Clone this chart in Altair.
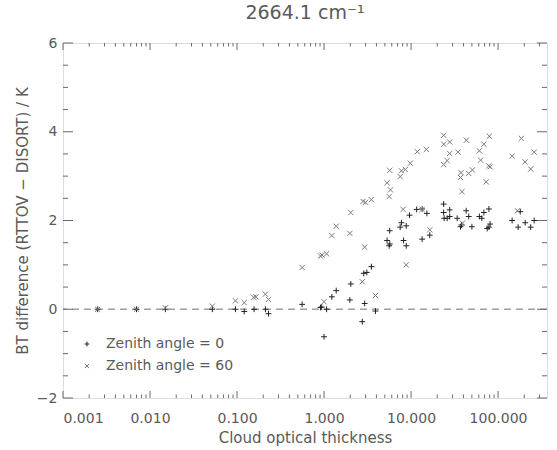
import altair as alt
import pandas as pd

# ---- data ----
labels = ["Zenith angle = 0", "Zenith angle = 60"]

tau_z0 = [0.0025, 0.007, 0.015, 0.052, 0.096, 0.121, 0.157, 0.212, 0.23, 0.56,
          0.91, 0.94, 1.0, 1.07, 1.23, 1.38, 1.98, 2.03, 2.75, 2.86,
          2.93, 3.1, 3.5, 3.9, 5.3, 5.6, 5.7, 5.68, 7.5, 7.75,
          8.8, 8.2, 8.8, 9.6, 11.6, 13.4, 13.4, 15.2, 16.4, 23.7,
          23.7, 27.8, 24.0, 26.0, 27.8, 33.9, 37.0, 38.0, 43.0, 46.0,
          50.0, 61.0, 65.0, 68.7, 78.5, 75.0, 78.5, 81.0, 145.0, 170.0,
          180.0, 205.0, 237.0, 260.0]
diff_z0 = [0.0, 0.0, 0.0, 0.0, 0.0, -0.05, 0.0, 0.0, -0.1, 0.11,
           0.04, 0.05, -0.62, 0.0, 0.28, 0.42, 0.21, 0.57, -0.28, 0.81,
           0.13, 0.83, 0.96, -0.04, 1.55, 1.43, 1.47, 1.77, 1.85, 1.95,
           1.88, 1.55, 1.43, 2.12, 2.25, 2.26, 1.58, 2.16, 1.67, 2.37,
           2.18, 2.24, 2.05, 2.05, 2.09, 2.05, 1.86, 1.90, 2.22, 2.09,
           1.86, 2.09, 2.05, 2.18, 2.26, 1.82, 1.85, 1.92, 2.0, 1.85,
           2.20, 1.95, 1.85, 2.0]

tau_z60 = [0.0025, 0.007, 0.015, 0.052, 0.096, 0.121, 0.155, 0.165, 0.212, 0.23,
           0.56, 0.91, 0.95, 1.0, 1.07, 1.23, 1.38, 1.98, 2.03, 2.75,
           2.8, 2.93, 3.0, 3.5, 3.9, 5.3, 5.6, 5.8, 5.68, 7.5,
           7.75, 8.1, 8.6, 8.8, 9.8, 11.8, 13.4, 15.0, 16.4, 23.7,
           23.7, 27.8, 26.0, 23.7, 27.8, 34.6, 37.5, 37.0, 38.5, 39.0,
           43.2, 45.9, 50.6, 61.0, 63.0, 68.7, 73.0, 79.4, 78.0, 81.0,
           145.0, 167.0, 185.0, 204.0, 237.0, 260.0]
diff_z60 = [0.0, 0.0, 0.03, 0.07, 0.19, 0.15, 0.27, 0.28, 0.34, 0.22,
            0.94, 1.20, 1.22, 0.17, 1.25, 1.66, 1.87, 1.71, 2.18, 0.62,
            2.43, 1.40, 2.41, 2.47, 0.31, 2.85, 2.54, 2.69, 3.13, 2.99,
            3.12, 2.25, 3.15, 1.0, 3.29, 3.55, 2.25, 3.60, 1.79, 3.92,
            3.72, 3.77, 3.35, 3.26, 3.51, 3.54, 3.08, 2.97, 2.65, 1.94,
            3.81, 3.06, 3.14, 3.57, 3.36, 3.72, 2.87, 3.90, 3.23, 3.21,
            3.45, 2.22, 3.85, 3.32, 3.16, 3.54]

x_major = [0.001, 0.01, 0.1, 1, 10, 100]
x_minor = [0.002, 0.003, 0.004, 0.005, 0.006, 0.007, 0.008, 0.009,
           0.02, 0.03, 0.04, 0.05, 0.06, 0.07, 0.08, 0.09,
           0.2, 0.3, 0.4, 0.5, 0.6, 0.7, 0.8, 0.9,
           2, 3, 4, 5, 6, 7, 8, 9,
           20, 30, 40, 50, 60, 70, 80, 90,
           200, 300]
y_major = [-2, 0, 2, 4, 6]
y_minor = [-1.5, -1, -0.5, 0.5, 1, 1.5, 2.5, 3, 3.5, 4.5, 5, 5.5]
zero_line = [0]

# ---- style ----
W, H = 484, 355
FONT = "DejaVu Sans"
AX = "#6a6a6a"
TXT = "#5a5a5a"
PLUS = "M-1,0L1,0M0,-1L0,1"
CROSS = "M-0.9,-0.9L0.9,0.9M-0.9,0.9L0.9,-0.9"

xscale = alt.Scale(type="log", domain=[0.001, 365], nice=False)
yscale = alt.Scale(domain=[-2, 6], nice=False, zero=False)

x_axis = alt.Axis(values=x_major, format=".3f", ticks=False, domain=False, grid=False,
                  labelFont=FONT, labelFontSize=14, labelColor=TXT, labelPadding=13,
                  title="Cloud optical thickness", titleFont=FONT, titleFontSize=15,
                  titleFontWeight="normal", titleColor=TXT, titlePadding=5)
y_axis = alt.Axis(values=y_major, format="d", ticks=False, domain=False, grid=False,
                  labelFont=FONT, labelFontSize=14, labelColor=TXT, labelPadding=6,
                  title="BT difference (RTTOV \u2212 DISORT) / K", titleFont=FONT,
                  titleFontSize=15, titleFontWeight="normal", titleColor=TXT,
                  titlePadding=6)

df = pd.DataFrame({
    "tau": tau_z0 + tau_z60,
    "diff": diff_z0 + diff_z60,
    "series": [labels[0]] * len(tau_z0) + [labels[1]] * len(tau_z60),
})

legend = alt.Legend(orient="none", legendX=17, legendY=294, title=None,
                    labelFont=FONT, labelFontSize=14, labelColor=TXT,
                    symbolSize=22, symbolStrokeWidth=1, labelOffset=12,
                    rowPadding=8, padding=0)

points = alt.Chart(df).mark_point(filled=False, strokeWidth=1, opacity=1, size=34).encode(
    x=alt.X("tau:Q", scale=xscale, axis=x_axis),
    y=alt.Y("diff:Q", scale=yscale, axis=y_axis),
    shape=alt.Shape("series:N", scale=alt.Scale(domain=labels, range=[PLUS, CROSS]), legend=legend),
    color=alt.Color("series:N", scale=alt.Scale(domain=labels, range=["#222222", "#7a7a7a"]), legend=legend),
)

zero = alt.Chart(pd.DataFrame({"v": zero_line})).mark_rule(
    color="#a0a0a0", strokeWidth=1.5, strokeDash=[7, 5]).encode(
    y=alt.Y("v:Q", scale=yscale, axis=y_axis))

def xticks(vals, length):
    d = pd.DataFrame({"t": vals})
    bottom = alt.Chart(d).mark_rule(color=AX, strokeWidth=1).encode(
        x=alt.X("t:Q", scale=xscale, axis=x_axis), y=alt.value(H), y2=alt.value(H - length))
    top = alt.Chart(d).mark_rule(color=AX, strokeWidth=1).encode(
        x=alt.X("t:Q", scale=xscale, axis=x_axis), y=alt.value(0), y2=alt.value(length))
    return [bottom, top]

def yticks(vals, length):
    d = pd.DataFrame({"t": vals})
    left = alt.Chart(d).mark_rule(color=AX, strokeWidth=1).encode(
        y=alt.Y("t:Q", scale=yscale, axis=y_axis), x=alt.value(0), x2=alt.value(length))
    right = alt.Chart(d).mark_rule(color=AX, strokeWidth=1).encode(
        y=alt.Y("t:Q", scale=yscale, axis=y_axis), x=alt.value(W), x2=alt.value(W - length))
    return [left, right]

layers = [zero] + xticks(x_major, 7) + xticks(x_minor, 3.5) + yticks(y_major, 10) + yticks(y_minor, 5) + [points]

chart = alt.layer(*layers).properties(
    width=W, height=H,
    title=alt.TitleParams("2664.1 cm\u207b\u00b9", font=FONT, fontSize=19, fontWeight="normal",
                          color=TXT, anchor="middle", offset=13),
    autosize=alt.AutoSizeParams(type="none"),
    padding={"left": 63, "top": 43, "right": 10, "bottom": 52},
).configure_view(stroke=AX, strokeWidth=1).configure(background="white")

chart.save("out.html", embed_options={"renderer": "svg", "actions": False})
